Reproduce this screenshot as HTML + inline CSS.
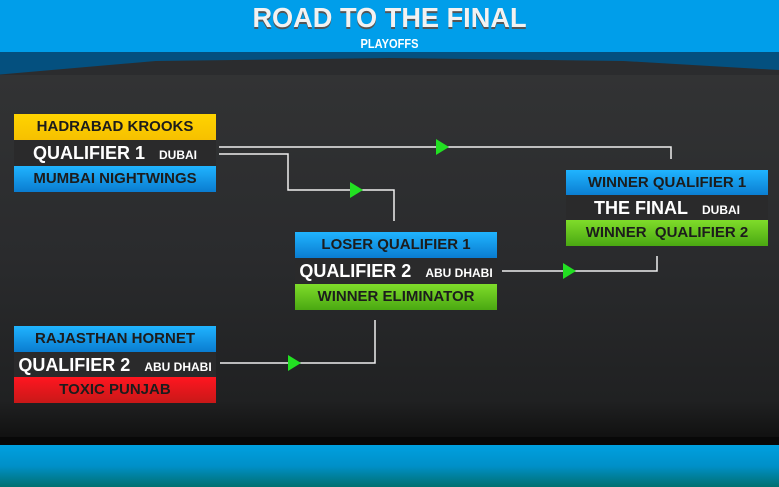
<!DOCTYPE html>
<html><head><style>
body{margin:0;width:779px;height:487px;overflow:hidden;background:#2b2c2e;font-family:"Liberation Sans",sans-serif;position:relative}
.hdr{position:absolute;left:0;top:0;width:779px;height:52px;background:#009eea}
.band{position:absolute;left:0;top:52px;width:779px;height:30px;background:#04507f;clip-path:polygon(0 0,100% 0,100% 60%,80% 30%,50% 20%,20% 30%,0 75%)}
.t1{position:absolute;top:2px;left:0;width:779px;text-align:center;color:#f2f2f2;font-weight:bold;font-size:28px;text-shadow:0 2px 0 #555;transform:scaleX(0.97)}
.t2{position:absolute;top:36px;left:0;width:779px;text-align:center;color:#fff;font-weight:bold;font-size:13px;transform:scaleX(0.85)}
.bg{position:absolute;left:0;top:75px;width:779px;height:362px;background:linear-gradient(#323334,#2a2b2d 50%,#202122 90%,#111)}
.foot{position:absolute;left:0;top:445px;width:779px;height:42px;background:linear-gradient(#00a0e0,#0090c8 50%,#007070)}
.blk{position:absolute;left:0;top:437px;width:779px;height:8px;background:#080808}
.b{position:absolute;width:202px;height:26px;line-height:26px;text-align:center;font-weight:bold;font-size:15px;color:#1c1c1c;box-sizing:border-box}
.y{background:linear-gradient(#ffd400,#f6c000)}
.bl{background:linear-gradient(#20b4ff,#0a7cd0)}
.g{background:linear-gradient(#7fdc2a,#4aa812)}
.r{background:linear-gradient(#ff1620,#c81818)}
.m{background:#2a2a2b;color:#fff;font-size:18px}
.m small{font-size:12px;margin-left:14px}
</style></head><body>
<div class="hdr"><div class="t1">ROAD TO THE FINAL</div><div class="t2">PLAYOFFS</div></div>
<div class="bg"></div><div class="band"></div>
<div class="blk"></div><div class="foot"></div>

<div class="b y" style="left:14px;top:114px">HADRABAD KROOKS</div>
<div class="b m" style="left:14px;top:140px">QUALIFIER 1<small>DUBAI</small></div>
<div class="b bl" style="left:14px;top:166px">MUMBAI NIGHTWINGS</div>

<div class="b bl" style="left:295px;top:232px">LOSER QUALIFIER 1</div>
<div class="b m" style="left:295px;top:258px">QUALIFIER 2<small>ABU DHABI</small></div>
<div class="b g" style="left:295px;top:284px">WINNER ELIMINATOR</div>

<div class="b bl" style="left:566px;top:170px">WINNER QUALIFIER 1</div>
<div class="b m" style="left:566px;top:195px">THE FINAL<small>DUBAI</small></div>
<div class="b g" style="left:566px;top:220px">WINNER&nbsp; QUALIFIER 2</div>

<div class="b bl" style="left:14px;top:326px">RAJASTHAN HORNET</div>
<div class="b m" style="left:14px;top:352px">QUALIFIER 2<small>ABU DHABI</small></div>
<div class="b r" style="left:14px;top:377px">TOXIC PUNJAB</div>

<svg style="position:absolute;left:0;top:0" width="779" height="487">
<g fill="none" stroke="#eee" stroke-width="1.5">
<polyline points="219,147 671,147 671,159"/>
<polyline points="219,154 288,154 288,190 394,190 394,221"/>
<polyline points="502,271 657,271 657,256"/>
<polyline points="220,363 375,363 375,320"/>
</g>
<g fill="#22e022">
<polygon points="436,139 436,155 449,147"/>
<polygon points="350,182 350,198 363,190"/>
<polygon points="563,263 563,279 576,271"/>
<polygon points="288,355 288,371 301,363"/>
</g>
</svg>
</body></html>
